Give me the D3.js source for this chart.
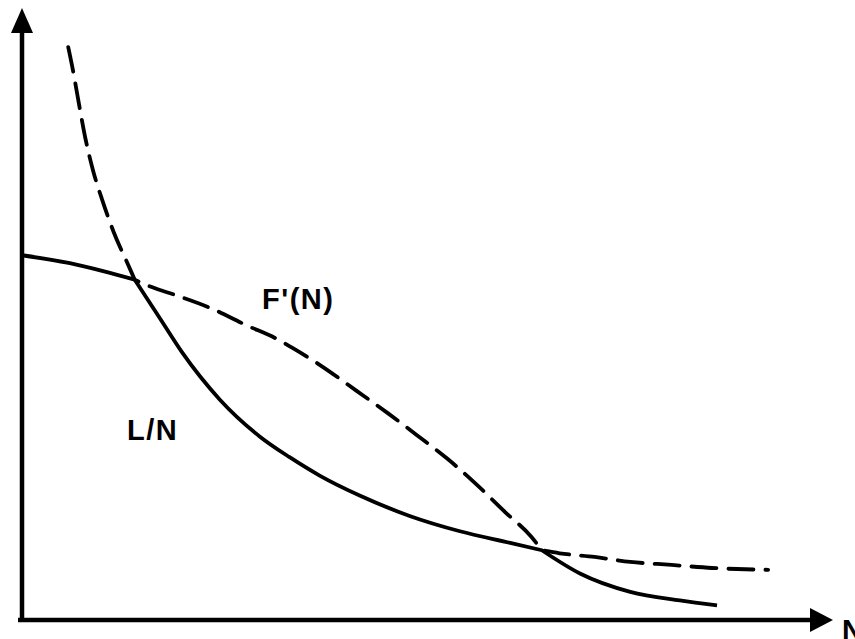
<!DOCTYPE html>
<html>
<head>
<meta charset="utf-8">
<script src="https://cdn.jsdelivr.net/npm/d3@7/dist/d3.min.js"></script>
<style>
  html, body { margin: 0; padding: 0; background: #fff; }
  svg { display: block; }
</style>
</head>
<body>
<svg id="chart" width="855" height="639"></svg>
<script>
// ---- data (abstract units: N on x, value on y) ----
const lnX = [0, 5.9, 10.0, 13.9, 17.0, 19.7, 24.4, 29.3, 33.0, 36.7, 41.7, 47.8, 54.0, 60.2, 64.1, 68.8, 75.0, 81.1, 85.7];
const lnY = [59.6, 58.3, 57.0, 55.6, 49.3, 43.8, 36.0, 30.0, 26.6, 23.6, 20.3, 17.0, 14.5, 12.6, 11.4, 7.6, 4.6, 3.2, 2.4];
const lnKinks = [3, 14];

const fpX = [5.7, 6.3, 7.0, 7.8, 8.75, 9.9, 11.3, 13.1, 13.9, 16.0, 18.9, 23.2, 27.6, 31.6, 33.3, 36.7, 41.3, 45.1, 48.7, 52.5, 56.0, 59.6, 62.8, 64.1, 66.3, 70.6, 75.0, 80.1, 85.1, 92.0];
const fpY = [93.6, 89.7, 84.5, 78.8, 73.5, 68.6, 63.4, 58.0, 55.6, 54.4, 53.1, 51.0, 48.2, 45.8, 44.5, 41.7, 37.4, 33.8, 30.2, 26.3, 22.2, 17.6, 13.6, 11.4, 10.9, 10.3, 9.5, 9.0, 8.5, 8.2];
const fpKinks = [8, 23];

const labels = [
  { text: "F'(N)", x: 29.6, y: 50.8 },
  { text: "L/N",   x: 12.95, y: 29.4 }
];
const axisLabelX = "N";
const xMax = 100, yMax = 100;

// ---- scales ----
const svg = d3.select("#chart");
const x = d3.scaleLinear().domain([0, xMax]).range([22, 833]);
const y = d3.scaleLinear().domain([0, yMax]).range([620, 8]);

// ---- axes with arrowheads ----
const axisW = 4.5;
svg.append("line")
  .attr("x1", x(0)).attr("y1", y(0) + 2)
  .attr("x2", x(0)).attr("y2", y(yMax) + 20)
  .attr("stroke", "#000").attr("stroke-width", axisW);
svg.append("line")
  .attr("x1", x(0) - 4).attr("y1", y(0))
  .attr("x2", x(xMax) - 18).attr("y2", y(0))
  .attr("stroke", "#000").attr("stroke-width", axisW);
svg.append("path")
  .attr("d", `M${x(0)},${y(yMax)} L${x(0) - 11},${y(yMax) + 25} L${x(0) + 11},${y(yMax) + 25} Z`)
  .attr("fill", "#000");
svg.append("path")
  .attr("d", `M${x(xMax)},${y(0)} L${x(xMax) - 23},${y(0) - 12} L${x(xMax) - 23},${y(0) + 12} Z`)
  .attr("fill", "#000");

svg.append("text")
  .attr("x", x(xMax) + 9).attr("y", y(0) + 20)
  .attr("font-family", "'Liberation Sans', Arial, sans-serif")
  .attr("font-weight", "bold").attr("font-size", 29)
  .text(axisLabelX);

// ---- curves (piecewise smooth, sharp at kinks) ----
function piecewisePath(xs, ys, kinks) {
  const pts = xs.map((v, i) => [x(v), y(ys[i])]);
  const bounds = [0, ...kinks, pts.length - 1];
  const gen = d3.line().curve(d3.curveMonotoneX);
  let d = "";
  for (let i = 0; i < bounds.length - 1; i++) {
    const seg = pts.slice(bounds[i], bounds[i + 1] + 1);
    let s = gen(seg);
    if (i > 0) s = "L" + s.slice(1);
    d += s;
  }
  return d;
}

svg.append("path")
  .attr("d", piecewisePath(lnX, lnY, lnKinks))
  .attr("fill", "none").attr("stroke", "#000")
  .attr("stroke-width", 3.8).attr("stroke-linejoin", "round");

svg.append("path")
  .attr("d", piecewisePath(fpX, fpY, fpKinks))
  .attr("fill", "none").attr("stroke", "#000")
  .attr("stroke-width", 3.8).attr("stroke-dasharray", "25,12")
  .attr("stroke-linecap", "round");

// ---- labels ----
svg.selectAll("text.lbl").data(labels).enter().append("text")
  .attr("class", "lbl")
  .attr("x", d => x(d.x)).attr("y", d => y(d.y))
  .attr("font-family", "'Liberation Sans', Arial, sans-serif")
  .attr("font-weight", "bold").attr("font-size", 29)
  .attr("letter-spacing", 1.5)
  .text(d => d.text);
</script>
</body>
</html>
